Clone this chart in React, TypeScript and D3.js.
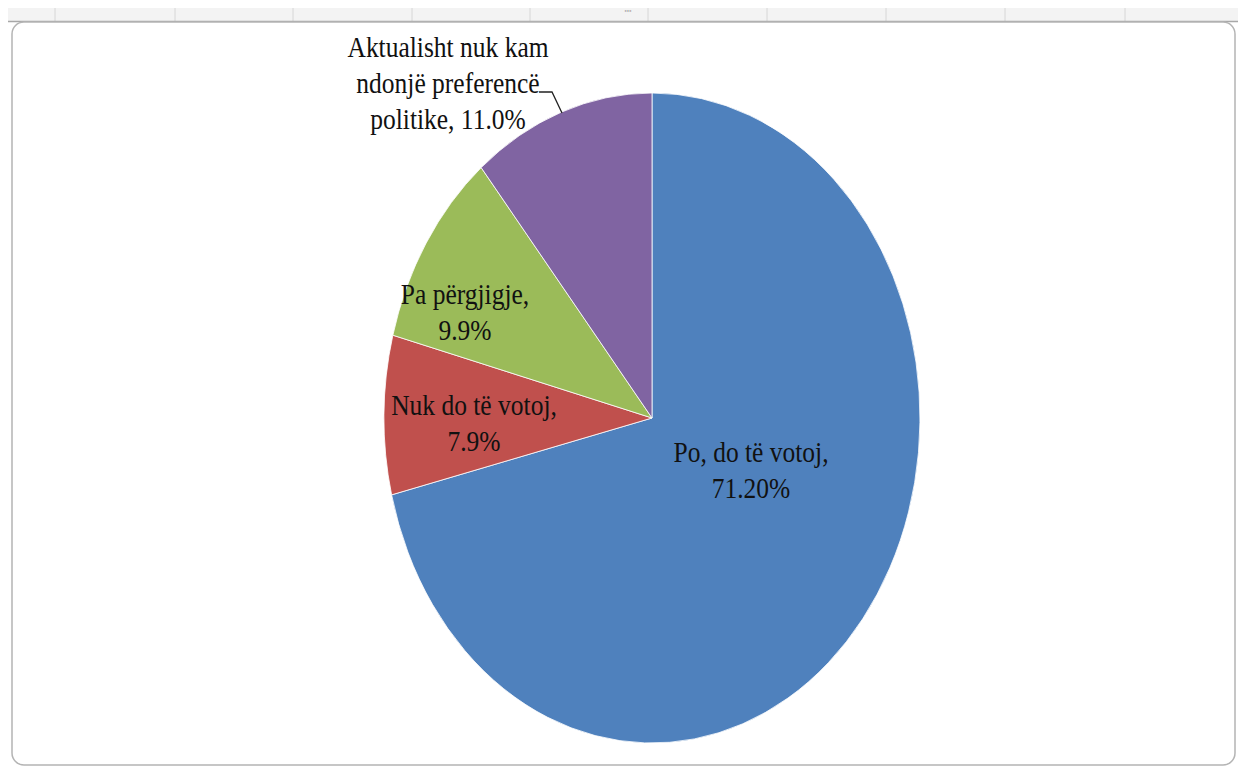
import React from "react";
import * as d3 from "d3";

const categories = [
  "Po, do të votoj",
  "Nuk do të votoj",
  "Pa përgjigje",
  "Aktualisht nuk kam ndonjë preferencë politike",
];
const values = [71.2, 7.9, 9.9, 11.0];
const valueLabels = ["71.20%", "7.9%", "9.9%", "11.0%"];
const labelLines = [
  ["Po, do të votoj,", "71.20%"],
  ["Nuk do të votoj,", "7.9%"],
  ["Pa përgjigje,", "9.9%"],
  ["Aktualisht nuk kam", "ndonjë preferencë", "politike, 11.0%"],
];
const colors = ["#4F81BD", "#C0504D", "#9BBB59", "#8064A2"];

// layout
const W = 1238;
const H = 769;
const cx = 652;
const cy = 418;
const R = 268;
const sy = 325 / 268;
const labelPos: [number, number][] = [
  [751, 455],
  [474, 408],
  [465, 297],
  [448, 50],
];
const gridXs = [55, 175, 293, 412, 530, 648, 767, 886, 1005, 1125];

export default function App() {
  const pie = d3
    .pie<number>()
    .sort(null)
    .value((d) => d);
  const arcs = pie(values);
  const arc = d3.arc<d3.PieArcDatum<number>>().innerRadius(0).outerRadius(R);
  const lineH = 36;
  const fs = 25.5;
  const tsy = 1.12;

  return (
    <svg
      width={W}
      height={H}
      style={{ position: "absolute", left: 0, top: 0, background: "#fff" }}
      fontFamily="'Liberation Serif', 'Times New Roman', serif"
    >
      {/* spreadsheet header strip */}
      <rect x={8} y={8} width={W - 8} height={14} fill="#f3f3f3" />
      {gridXs.map((x) => (
        <line key={x} x1={x} x2={x} y1={8} y2={22} stroke="#d6d6d6" strokeWidth={1} />
      ))}
      <text x={628} y={16} fontSize={9} fill="#999" textAnchor="middle" fontFamily="Liberation Sans">
        ''''
      </text>
      <line x1={8} x2={W} y1={21.5} y2={21.5} stroke="#a8a8a8" strokeWidth={1.5} />
      {/* chart frame */}
      <rect
        x={12}
        y={22}
        width={1223}
        height={743}
        rx={12}
        ry={12}
        fill="#fff"
        stroke="#b4b4b4"
        strokeWidth={1.5}
      />
      {/* pie */}
      <g transform={`translate(${cx},${cy}) scale(1,${sy})`}>
        {arcs.map((a, i) => (
          <path
            key={categories[i]}
            d={arc(a) || ""}
            fill={colors[i]}
            stroke="#fff"
            strokeWidth={0.8}
            vectorEffect="non-scaling-stroke"
          />
        ))}
      </g>
      {/* leader line for the outside label */}
      <polyline
        points="539,92 552,92 562,113"
        fill="none"
        stroke="#222"
        strokeWidth={1.3}
      />
      {/* labels */}
      {labelLines.map((lines, i) => (
        <g
          key={valueLabels[i]}
          transform={`translate(${labelPos[i][0]},${labelPos[i][1]}) scale(1,${tsy})`}
        >
          {lines.map((ln, j) => (
            <text
              key={j}
              x={0}
              y={(j * lineH) / tsy}
              fontSize={fs}
              textAnchor="middle"
              dominantBaseline="middle"
              fill="#111"
            >
              {ln}
            </text>
          ))}
        </g>
      ))}
    </svg>
  );
}
